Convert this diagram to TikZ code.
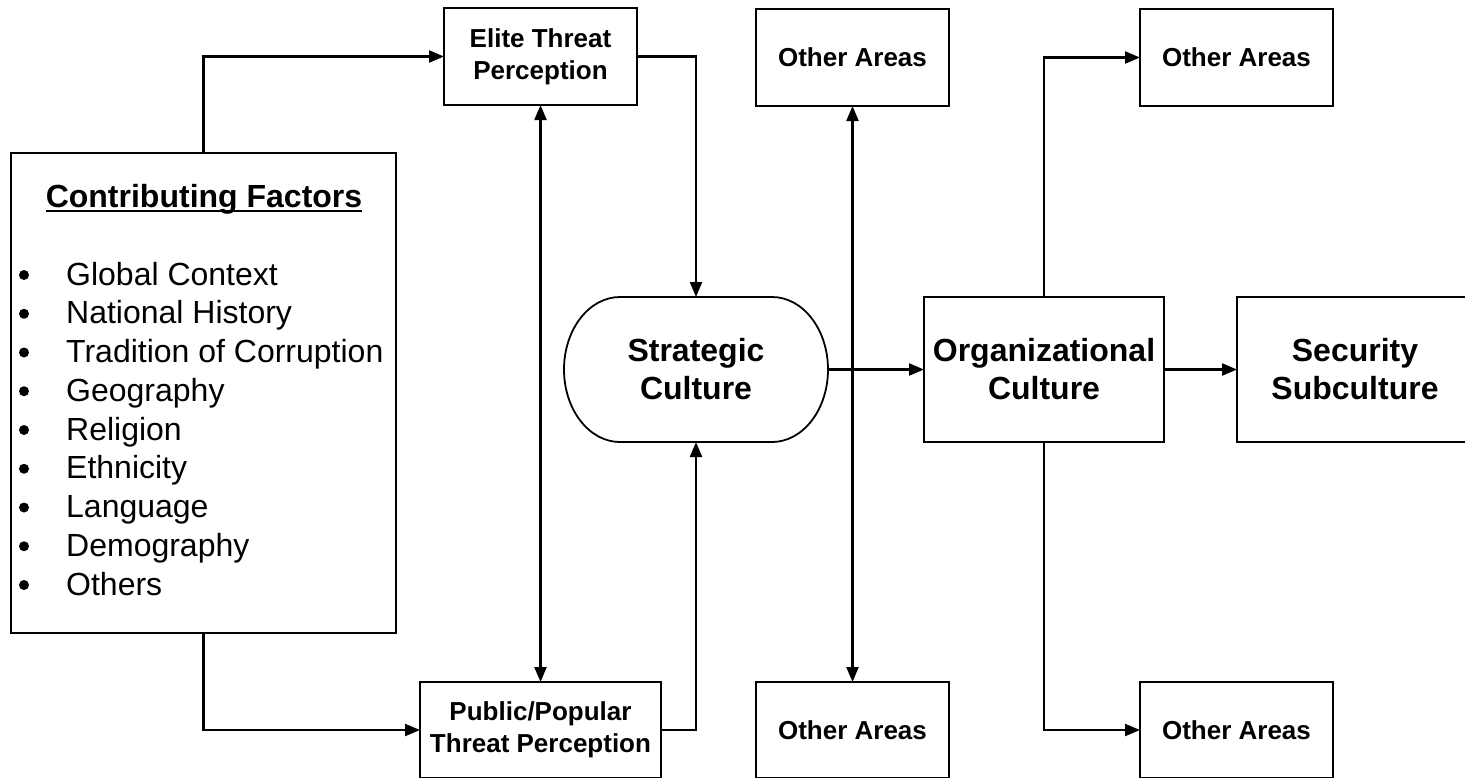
\documentclass[tikz,border=0pt]{standalone}
\usepackage{fontspec}
\setmainfont{Liberation Sans}
\usetikzlibrary{arrows.meta}
\begin{document}
\begin{tikzpicture}[x=1pt,y=-1pt,
  box/.style={draw=black, line width=2.2pt, inner sep=0pt, outer sep=0pt, align=center, font=\fontsize{26}{32}\selectfont\bfseries},
  bigbox/.style={box, font=\fontsize{32}{38}\selectfont\bfseries},
  conn/.style={line width=2.2pt, -{Triangle[length=15pt,width=12pt]}},
  both/.style={line width=2.2pt, {Triangle[length=15pt,width=12pt]}-{Triangle[length=15pt,width=12pt]}},
  itemtext/.style={anchor=base west, inner sep=0pt, font=\fontsize{32}{38}\selectfont},
  bul/.style={circle, fill=black, inner sep=0pt, minimum size=10pt},
]
\useasboundingbox (0,0) rectangle (1465,777);
\clip (0,0) rectangle (1465,777);
\fill[white] (0,0) rectangle (1465,777);

% Contributing factors box
\node[box, minimum width=385, minimum height=480] (cf) at (203.5,393) {};
\node[anchor=base, inner sep=0pt, font=\fontsize{32}{38}\selectfont\bfseries] (head) at (204,207) {Contributing Factors};
\draw[line width=2.2pt] ([yshift=-4pt]head.base west) -- ([yshift=-4pt]head.base east);
\foreach \t [count=\k from 0] in {Global Context,National History,Tradition of Corruption,Geography,Religion,Ethnicity,Language,Demography,Others}{
  \node[bul] (b\k) at (24,275+38.75*\k) {};
  \node[itemtext] (it\k) at (66,285+38.75*\k) {\t};
}

% threat perception boxes
\node[box, minimum width=193, minimum height=97] (elite) at (540.5,56.5) {Elite Threat\\Perception};
\node[box, minimum width=241, minimum height=96] (public) at (540.5,730) {Public/Popular\\Threat Perception};

% strategic culture
\node[inner sep=0pt, outer sep=0pt, minimum width=264, minimum height=145, align=center, font=\fontsize{32}{38}\selectfont\bfseries] (sc) at (696,369.5) {Strategic\\Culture};
\draw[line width=1.8pt] (620,297) -- (772,297) arc[start angle=-90, end angle=90, x radius=56, y radius=72.5] -- (620,442) arc[start angle=90, end angle=270, x radius=56, y radius=72.5] -- cycle;

% other areas
\node[box, minimum width=193, minimum height=97] (oa1) at (852.5,57.5) {Other Areas};
\node[box, minimum width=193, minimum height=96] (oa2) at (852.5,730) {Other Areas};
\node[box, minimum width=193, minimum height=97] (oa3) at (1236.5,57.5) {Other Areas};
\node[box, minimum width=193, minimum height=96] (oa4) at (1236.5,730) {Other Areas};

% organizational and security
\node[bigbox, minimum width=240, minimum height=145] (org) at (1044,369.5) {Organizational\\Culture};
\node[bigbox, minimum width=236, minimum height=145] (sec) at (1355,369.5) {Security\\Subculture};

% connectors
\draw[conn] (cf.north) |- (elite.west);
\draw[conn] (cf.south) |- (public.west);
\draw[conn] (elite.east) -| (sc.north);
\draw[conn] (public.east) -| (sc.south);
\draw[both] (elite.south) -- (public.north);
\draw[conn] (sc.east) -- (org.west);
\draw[both] (oa1.south) -- (oa2.north);
\draw[conn] (org.east) -- (sec.west);
\draw[conn] (org.north) |- (oa3.west);
\draw[conn] (org.south) |- (oa4.west);
\end{tikzpicture}
\end{document}
